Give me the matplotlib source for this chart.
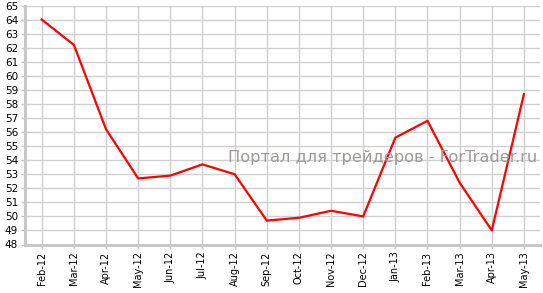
import matplotlib
matplotlib.use("Agg")
import matplotlib.pyplot as plt

months = ["Feb-12", "Mar-12", "Apr-12", "May-12", "Jun-12", "Jul-12", "Aug-12", "Sep-12",
          "Oct-12", "Nov-12", "Dec-12", "Jan-13", "Feb-13", "Mar-13", "Apr-13", "May-13"]
values = [64.0, 62.2, 56.2, 52.7, 52.9, 53.7, 53.0, 49.7,
          49.9, 50.4, 50.0, 55.6, 56.8, 52.4, 49.0, 58.7]
y_ticks = list(range(48, 66))
watermark = "Портал для трейдеров - ForTrader.ru"

fig = plt.figure(figsize=(5.43, 2.93), dpi=100)
ax = fig.add_axes([25/543, 48.5/293, 515/543, 239/293])
x = list(range(len(months)))
ax.plot(x, values, color="#ff0000", lw=1.6, zorder=3)

ax.set_xlim(-0.52, len(months) - 0.5)
ax.set_ylim(48, 65)
ax.set_xticks(x)
ax.set_xticklabels(months, rotation=90, fontsize=7)
ax.set_yticks(y_ticks)
ax.set_yticklabels([str(v) for v in y_ticks], fontsize=7.5)
ax.grid(True, color="#d0d0d0", lw=1.0, zorder=0)
for s in ["top", "right"]:
    ax.spines[s].set_visible(False)
for s in ["left", "bottom"]:
    ax.spines[s].set_color("#c8c8c8")
    ax.spines[s].set_linewidth(2.2)
ax.tick_params(axis="both", length=3, width=1, color="#c0c0c0", pad=2)
ax.text(0.995, 0.366, watermark, transform=ax.transAxes, ha="right", va="center",
        fontsize=11.7, color="#a09a9a", zorder=4)
fig.savefig("out.png", dpi=100)
